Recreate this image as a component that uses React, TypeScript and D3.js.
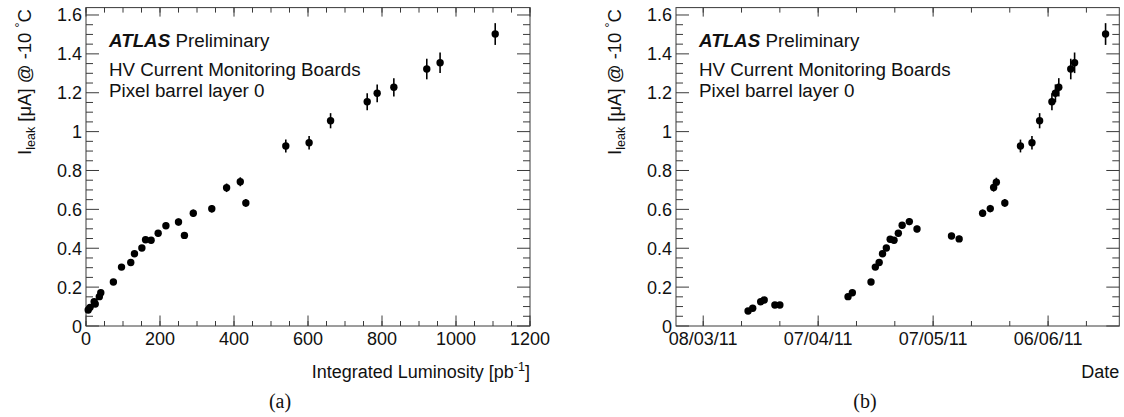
import React from 'react';
import * as d3 from 'd3';

// ---------- data: panel (a) ----------
const lumi = [6, 11, 22, 25, 36, 40, 74, 96, 121, 131, 151, 161, 176, 195, 216, 250, 266, 290, 340, 380, 417, 432, 540, 603, 661, 760, 787, 832, 921, 957, 1106];
const ileakA = [0.082, 0.096, 0.125, 0.113, 0.151, 0.171, 0.226, 0.303, 0.327, 0.372, 0.401, 0.444, 0.441, 0.477, 0.516, 0.535, 0.466, 0.58, 0.603, 0.711, 0.742, 0.633, 0.926, 0.943, 1.056, 1.154, 1.197, 1.228, 1.322, 1.354, 1.502];
const errA = [0.004, 0.005, 0.006, 0.005, 0.007, 0.008, 0.009, 0.011, 0.012, 0.013, 0.014, 0.015, 0.015, 0.016, 0.017, 0.018, 0.016, 0.019, 0.019, 0.022, 0.023, 0.02, 0.033, 0.035, 0.039, 0.044, 0.046, 0.047, 0.053, 0.053, 0.056];

// ---------- data: panel (b) ----------
const dates = [
  '2011-03-19T17:00Z', '2011-03-20T22:00Z', '2011-03-23T00:00Z', '2011-03-23T22:00Z', '2011-03-26T17:00Z', '2011-03-28T00:00Z',
  '2011-04-14T19:00Z', '2011-04-15T22:00Z', '2011-04-20T19:00Z', '2011-04-21T22:00Z', '2011-04-22T22:00Z', '2011-04-23T19:00Z',
  '2011-04-24T19:00Z', '2011-04-25T19:00Z', '2011-04-26T19:00Z', '2011-04-27T22:00Z', '2011-04-28T22:00Z', '2011-04-30T19:00Z',
  '2011-05-02T19:00Z', '2011-05-11T19:00Z', '2011-05-13T19:00Z', '2011-05-19T22:00Z', '2011-05-21T22:00Z', '2011-05-22T19:00Z',
  '2011-05-23T12:00Z', '2011-05-25T17:00Z', '2011-05-29T19:00Z', '2011-06-01T19:00Z', '2011-06-03T19:00Z', '2011-06-07T00:00Z',
  '2011-06-07T22:00Z', '2011-06-08T19:00Z', '2011-06-11T22:00Z', '2011-06-12T22:00Z', '2011-06-21T00:00Z',
];
const ileakB = [0.077, 0.091, 0.125, 0.134, 0.108, 0.108, 0.151, 0.171, 0.226, 0.303, 0.327, 0.372, 0.401, 0.446, 0.441, 0.477, 0.518, 0.537, 0.499, 0.463, 0.448, 0.58, 0.604, 0.713, 0.74, 0.633, 0.926, 0.943, 1.056, 1.154, 1.197, 1.228, 1.322, 1.354, 1.502];
const errB = [0.004, 0.005, 0.006, 0.006, 0.005, 0.005, 0.007, 0.008, 0.009, 0.011, 0.012, 0.013, 0.014, 0.015, 0.015, 0.016, 0.017, 0.018, 0.017, 0.016, 0.016, 0.019, 0.019, 0.022, 0.023, 0.02, 0.033, 0.035, 0.039, 0.044, 0.046, 0.047, 0.053, 0.053, 0.056];

// ---------- axes ----------
const lumiTicks = [0, 200, 400, 600, 800, 1000, 1200];
const yTicks = [0, 0.2, 0.4, 0.6, 0.8, 1, 1.2, 1.4, 1.6];
const yLabels = ['0', '0.2', '0.4', '0.6', '0.8', '1', '1.2', '1.4', '1.6'];
const dateMajor = ['2011-03-08T00:00Z', '2011-04-07T00:00Z', '2011-05-07T00:00Z', '2011-06-06T00:00Z'];
const dateDomain = ['2011-02-28T21:36Z', '2011-06-24T14:00Z'];
const lumiDomain = [0, 1200];
const yDomain = [0, 1.638];

const FONT = '"Liberation Sans", Arial, Helvetica, sans-serif';
const TOP = 7.6;
const BOTTOM = 326;
const AXIS = '#3a3a3a';

const yScale = d3.scaleLinear().domain(yDomain).range([BOTTOM, TOP]);
const yMinor = d3.range(0, 1.6001, 0.05);

type PanelProps = {
  x: (v: any) => number;
  left: number;
  right: number;
  majorX: number[];
  majorLabels: string[];
  minorX: number[];
  xs: number[];
  ys: number[];
  es: number[];
  xTitle: React.ReactNode;
  caption: string;
  captionX: number;
  yTitleX: number;
};

function Panel(p: PanelProps) {
  const { left, right } = p;
  return (
    <g>
      <rect x={left} y={TOP} width={right - left} height={BOTTOM - TOP} fill="none" stroke={AXIS} strokeWidth={1} />
      {yMinor.map((v, i) => {
        const major = Math.abs(v / 0.2 - Math.round(v / 0.2)) < 1e-6;
        const len = major ? 13 : 7;
        const y = yScale(v);
        return (
          <g key={'y' + i}>
            <line x1={left} x2={left + len} y1={y} y2={y} stroke={AXIS} strokeWidth={1} />
            <line x1={right} x2={right - len} y1={y} y2={y} stroke={AXIS} strokeWidth={1} />
          </g>
        );
      })}
      {p.minorX.map((px, i) => (
        <g key={'xm' + i}>
          <line x1={px} x2={px} y1={BOTTOM} y2={BOTTOM - 5} stroke={AXIS} strokeWidth={1} />
          <line x1={px} x2={px} y1={TOP} y2={TOP + 5} stroke={AXIS} strokeWidth={1} />
        </g>
      ))}
      {p.majorX.map((px, i) => (
        <g key={'xM' + i}>
          <line x1={px} x2={px} y1={BOTTOM} y2={BOTTOM - 10.5} stroke={AXIS} strokeWidth={1} />
          <line x1={px} x2={px} y1={TOP} y2={TOP + 9} stroke={AXIS} strokeWidth={1} />
          <text x={px} y={344.5} textAnchor="middle" fontSize={18} fontFamily={FONT} fill="#111">
            {p.majorLabels[i]}
          </text>
        </g>
      ))}
      {yTicks.map((v, i) => (
        <text key={'yl' + i} x={left - 4} y={yScale(v) + 6.5} textAnchor="end" fontSize={18} fontFamily={FONT} fill="#111">
          {yLabels[i]}
        </text>
      ))}
      <text transform={`translate(${p.yTitleX},${TOP + 1.5}) rotate(-90)`} textAnchor="end" fontSize={18.5} fontFamily={FONT} fill="#111">
        <tspan>I</tspan>
        <tspan fontSize={12.5} dy={3.5}>leak</tspan>
        <tspan dy={-3.5}> [μA] @ -10 </tspan>
        <tspan fontSize={12.5} dy={-7}>°</tspan>
        <tspan dy={7}>C</tspan>
      </text>
      <text x={right} y={378} textAnchor="end" fontSize={18} fontFamily={FONT} fill="#111">
        {p.xTitle}
      </text>
      <text x={p.captionX} y={408} textAnchor="middle" fontSize={20} fontFamily='"Liberation Serif", "Times New Roman", serif' fill="#111">
        {p.caption}
      </text>
      <text x={left + 23} y={47} fontSize={18.8} fontFamily={FONT} fill="#111">
        <tspan fontWeight="bold" fontStyle="italic">ATLAS</tspan>
        <tspan> Preliminary</tspan>
      </text>
      <text x={left + 23} y={76} fontSize={18.8} fontFamily={FONT} fill="#111">HV Current Monitoring Boards</text>
      <text x={left + 23} y={96.5} fontSize={18.8} fontFamily={FONT} fill="#111">Pixel barrel layer 0</text>
      {p.xs.map((xv, i) => {
        const cx = p.x(xv);
        const cy = yScale(p.ys[i]);
        return (
          <g key={'pt' + i}>
            <line x1={cx} x2={cx} y1={yScale(p.ys[i] + p.es[i])} y2={yScale(p.ys[i] - p.es[i])} stroke="#000" strokeWidth={1.6} />
            <circle cx={cx} cy={cy} r={3.7} fill="#000" />
          </g>
        );
      })}
    </g>
  );
}

export default function App() {
  const xA = d3.scaleLinear().domain(lumiDomain).range([86, 530]);
  const xB = d3.scaleUtc().domain(dateDomain.map((d) => new Date(d))).range([676, 1119.3]);
  const fmt = d3.utcFormat('%d/%m/%y');
  const start = new Date(dateMajor[0]);
  const minorDatesB = d3.range(0, 110, 10).map((k) => d3.utcDay.offset(start, k)).filter((d) => d <= xB.domain()[1]);
  const minorA = d3.range(0, 1201, 50);
  const dateObjs = dates.map((d) => new Date(d));
  return (
    <svg width={1124} height={417} style={{ position: 'fixed', left: 0, top: 0, background: '#fff' }}>
      <rect x={0} y={0} width={1124} height={417} fill="#fff" />
      <Panel
        x={xA}
        left={86}
        right={530}
        majorX={lumiTicks.map((v) => xA(v))}
        majorLabels={lumiTicks.map(String)}
        minorX={minorA.map((v) => xA(v))}
        xs={lumi}
        ys={ileakA}
        es={errA}
        xTitle={
          <>
            <tspan>Integrated Luminosity [pb</tspan>
            <tspan fontSize={12.5} dy={-7}>-1</tspan>
            <tspan dy={7}>]</tspan>
          </>
        }
        caption="(a)"
        captionX={280}
        yTitleX={31}
      />
      <Panel
        x={xB}
        left={676}
        right={1119.3}
        majorX={dateMajor.map((d) => xB(new Date(d)))}
        majorLabels={dateMajor.map((d) => fmt(new Date(d)))}
        minorX={minorDatesB.map((d) => xB(d))}
        xs={dateObjs as any}
        ys={ileakB}
        es={errB}
        xTitle="Date"
        caption="(b)"
        captionX={865}
        yTitleX={621}
      />
    </svg>
  );
}
